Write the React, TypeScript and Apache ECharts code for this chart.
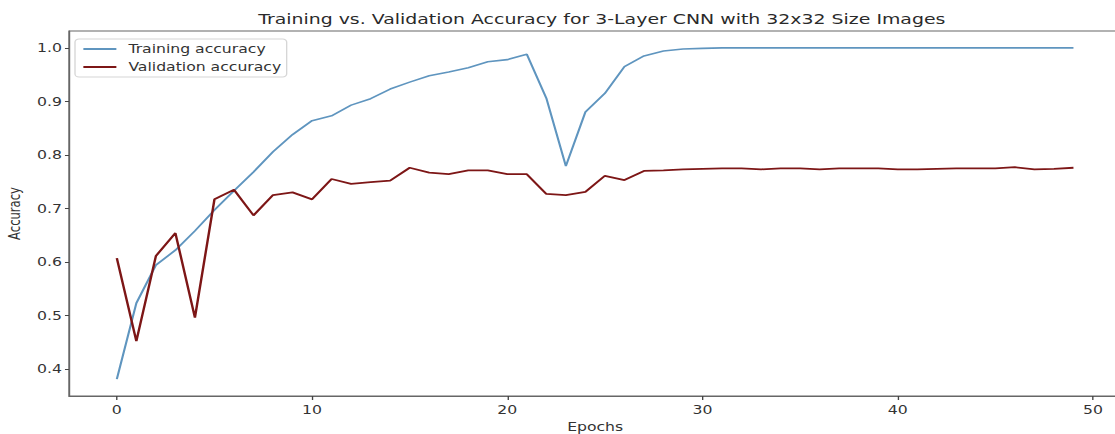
import React, { useEffect, useRef } from "react";
import * as echarts from "echarts";

const epochs: number[] = Array.from({ length: 50 }, (_, i) => i);

const trainingAccuracy: number[] = [
  0.381, 0.523, 0.594, 0.622, 0.658, 0.697, 0.733, 0.768, 0.806, 0.838,
  0.864, 0.873, 0.893, 0.905, 0.923, 0.936, 0.948, 0.955, 0.963, 0.974,
  0.978, 0.988, 0.906, 0.779, 0.880, 0.915, 0.965, 0.985, 0.994, 0.998,
  0.999, 1.0, 1.0, 1.0, 1.0, 1.0, 1.0, 1.0, 1.0, 1.0,
  1.0, 1.0, 1.0, 1.0, 1.0, 1.0, 1.0, 1.0, 1.0, 1.0,
];

const validationAccuracy: number[] = [
  0.607, 0.452, 0.611, 0.654, 0.496, 0.717, 0.735, 0.687, 0.725, 0.730,
  0.717, 0.755, 0.746, 0.749, 0.752, 0.776, 0.767, 0.764, 0.771, 0.771,
  0.764, 0.764, 0.727, 0.725, 0.731, 0.761, 0.753, 0.770, 0.771, 0.773,
  0.774, 0.775, 0.775, 0.773, 0.775, 0.775, 0.773, 0.775, 0.775, 0.775,
  0.773, 0.773, 0.774, 0.775, 0.775, 0.775, 0.777, 0.773, 0.774, 0.776,
];

const xTicks: number[] = [0, 10, 20, 30, 40, 50];
const yTicks: number[] = [0.4, 0.5, 0.6, 0.7, 0.8, 0.9, 1.0];

// The reference picture is horizontally stretched; reproduce that by drawing
// the chart narrower and scaling it along x.
const SX = 1.35;
const INNER_W = 834;
const H = 434;

const FONT = "DejaVu Sans";
const TEXT = "#333";
const FS = 11.6;

export default function App() {
  const ref = useRef<HTMLDivElement>(null);
  useEffect(() => {
    if (!ref.current) return;
    const chart = echarts.init(ref.current, undefined, { renderer: "svg" });
    chart.setOption({
      animation: false,
      backgroundColor: "#fff",
      title: {
        text: "Training vs. Validation Accuracy for 3-Layer CNN with 32x32 Size Images",
        left: 595 / SX,
        top: 7,
        textAlign: "center",
        textStyle: { fontFamily: FONT, fontSize: 14, fontWeight: "normal", color: "#2a2a2a" },
      },
      legend: {
        orient: "vertical",
        left: 75 / SX,
        top: 39,
        padding: [4, 4, 4, 5.2],
        itemWidth: 33 / SX,
        itemHeight: 14,
        itemGap: 6,
        borderColor: "#d6d6d6",
        borderWidth: 1,
        borderRadius: 3,
        backgroundColor: "rgba(255,255,255,0.9)",
        itemStyle: { opacity: 0 },
        textStyle: { fontFamily: FONT, fontSize: FS, color: TEXT, padding: [0, 0, 0, 3.9] },
        data: ["Training accuracy", "Validation accuracy"],
      },
      grid: {
        left: 69 / SX,
        right: INNER_W - 1121.3 / SX,
        top: 31,
        bottom: 38,
        outerBoundsMode: "none",
        containLabel: false,
        show: true,
        borderColor: "#666",
        borderWidth: 1,
        backgroundColor: "transparent",
      },
      xAxis: {
        type: "value",
        min: -2.45,
        max: 51.45,
        name: "Epochs",
        nameLocation: "middle",
        nameGap: 25,
        nameTextStyle: { fontFamily: FONT, fontSize: FS, color: TEXT },
        axisLine: { show: true, onZero: false, lineStyle: { color: "#666" } },
        axisTick: { show: true, length: 4, lineStyle: { color: "#444" }, customValues: xTicks },
        axisLabel: { fontFamily: FONT, fontSize: FS, color: TEXT, margin: 8, customValues: xTicks },
        splitLine: { show: false },
      },
      yAxis: {
        type: "value",
        min: 0.3495,
        max: 1.0315,
        name: "Accuracy",
        nameLocation: "middle",
        nameGap: 32,
        nameTextStyle: { fontFamily: FONT, fontSize: FS, color: TEXT },
        axisLine: { show: true, onZero: false, lineStyle: { color: "#666" } },
        axisTick: { show: true, length: 3, lineStyle: { color: "#444" }, customValues: yTicks },
        axisLabel: {
          fontFamily: FONT,
          fontSize: FS,
          color: TEXT,
          margin: 5.2,
          customValues: yTicks,
          formatter: (v: number) => v.toFixed(1),
        },
        splitLine: { show: false },
      },
      series: [
        {
          name: "Training accuracy",
          type: "line",
          symbol: "none",
          lineStyle: { color: "#5f95bf", width: 1.6 },
          itemStyle: { color: "#5f95bf" },
          data: epochs.map((e, i) => [e, trainingAccuracy[i]]),
        },
        {
          name: "Validation accuracy",
          type: "line",
          symbol: "none",
          lineStyle: { color: "#7d1616", width: 1.8 },
          itemStyle: { color: "#7d1616" },
          data: epochs.map((e, i) => [e, validationAccuracy[i]]),
        },
      ],
    });
    return () => chart.dispose();
  }, []);
  return (
    <div
      style={{
        position: "fixed",
        left: 0,
        top: 0,
        width: 1115,
        height: H,
        overflow: "hidden",
        background: "#fff",
      }}
    >
      <div
        ref={ref}
        style={{
          width: INNER_W,
          height: H,
          transform: `scaleX(${SX})`,
          transformOrigin: "0 0",
        }}
      />
    </div>
  );
}
